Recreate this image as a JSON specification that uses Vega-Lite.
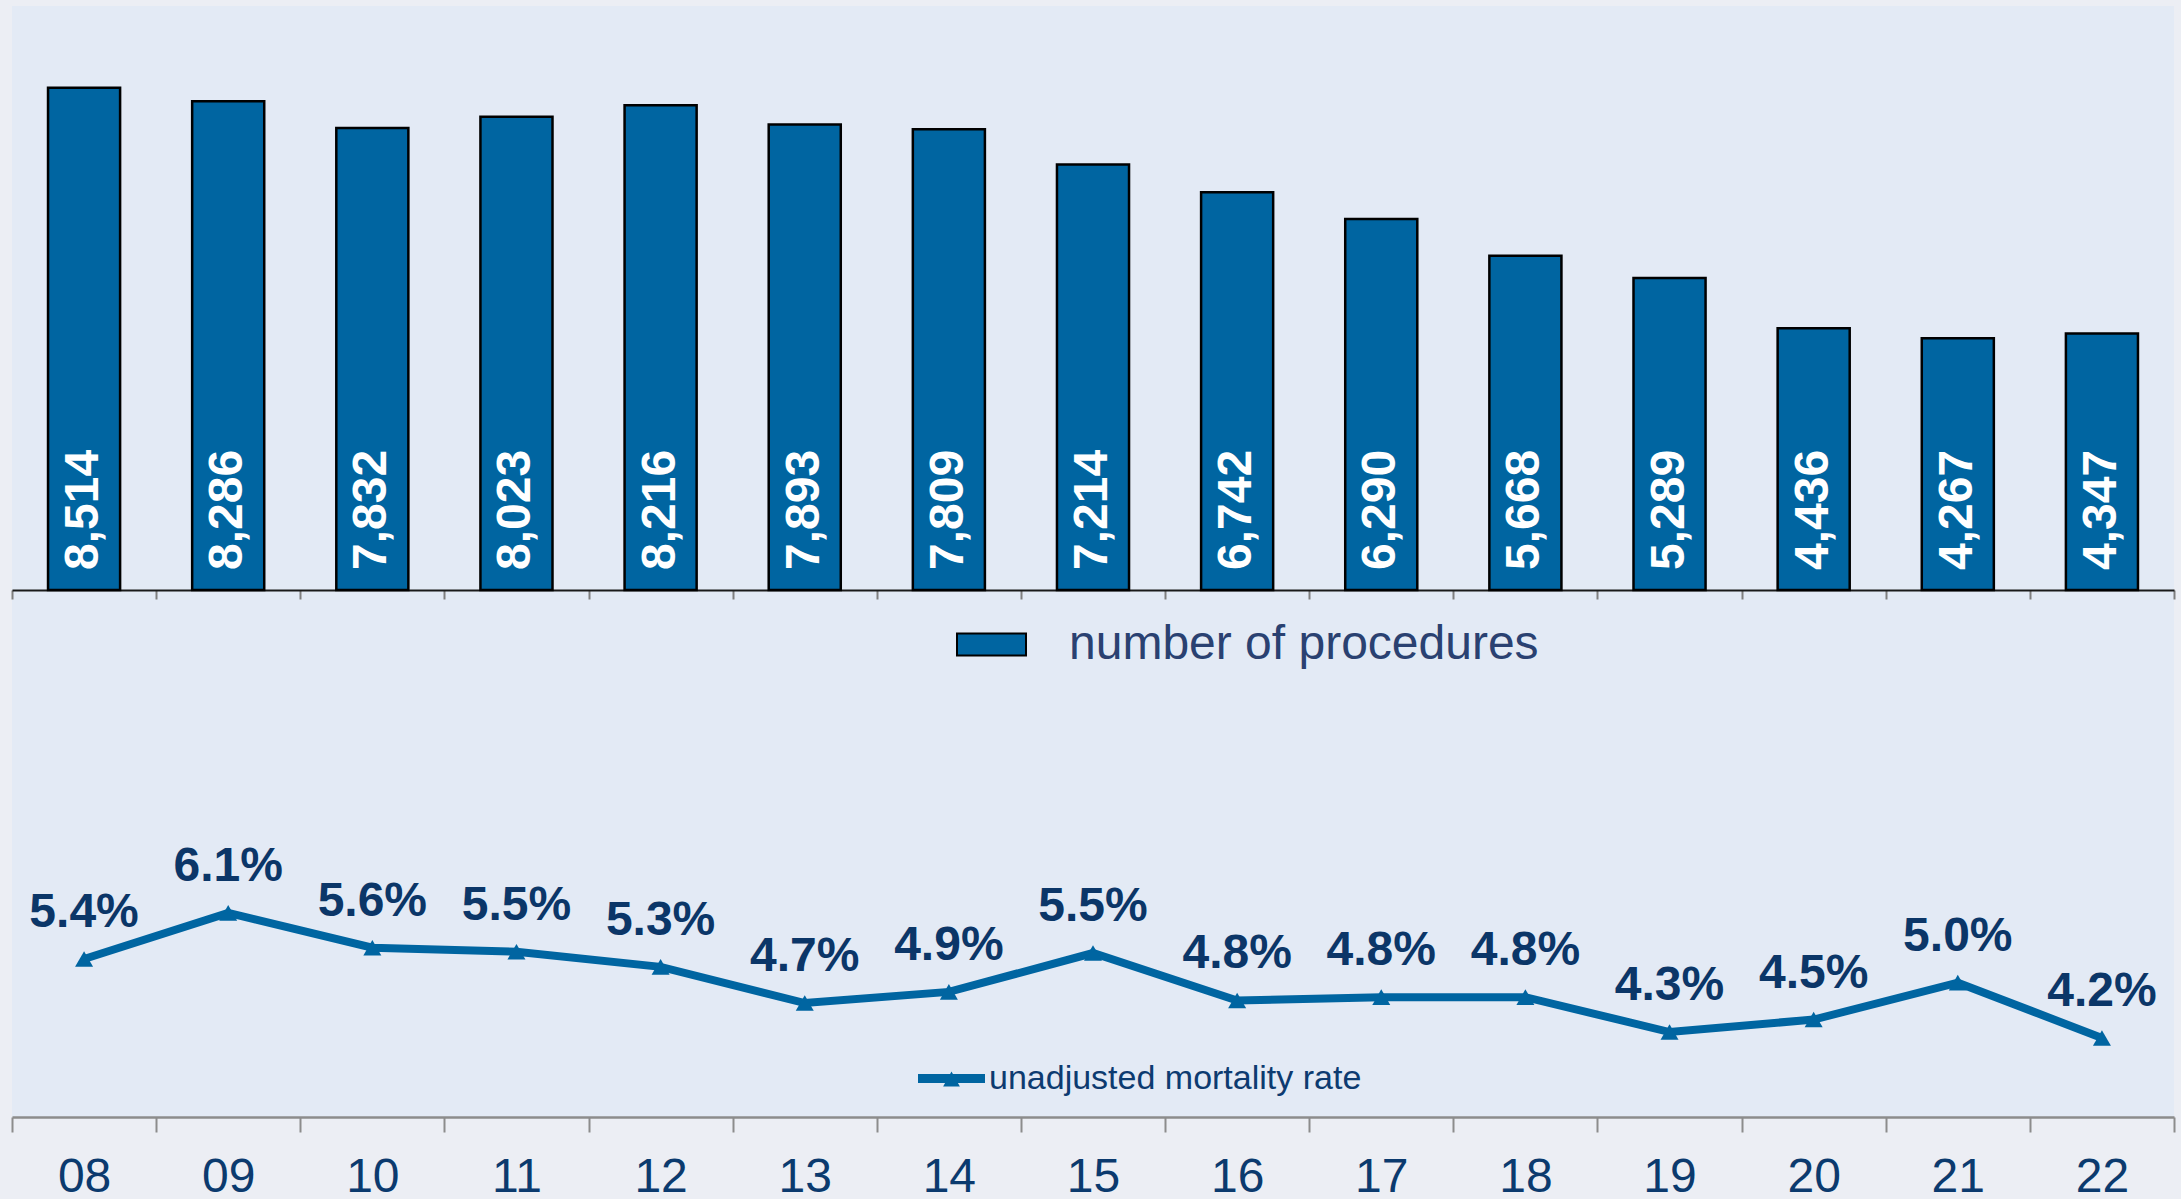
{
  "$schema": "https://vega.github.io/schema/vega-lite/v6.json",
  "background": "#ECEEF4",
  "padding": {"left": 11, "top": 6, "right": 8, "bottom": 0},
  "config": {
    "view": {"stroke": null, "fill": "#E3EAF5"},
    "font": "Liberation Sans",
    "axis": {"grid": false}
  },
  "width": 2162,
  "height": 1111,
  "data": {
    "values": [
      {"year": "08", "procedures": 8514, "rate": 0.054},
      {"year": "09", "procedures": 8286, "rate": 0.061},
      {"year": "10", "procedures": 7832, "rate": 0.0557},
      {"year": "11", "procedures": 8023, "rate": 0.0551},
      {"year": "12", "procedures": 8216, "rate": 0.0528},
      {"year": "13", "procedures": 7893, "rate": 0.0473},
      {"year": "14", "procedures": 7809, "rate": 0.049},
      {"year": "15", "procedures": 7214, "rate": 0.0549},
      {"year": "16", "procedures": 6742, "rate": 0.0477},
      {"year": "17", "procedures": 6290, "rate": 0.0482},
      {"year": "18", "procedures": 5668, "rate": 0.0482},
      {"year": "19", "procedures": 5289, "rate": 0.0429},
      {"year": "20", "procedures": 4436, "rate": 0.0448},
      {"year": "21", "procedures": 4267, "rate": 0.0504},
      {"year": "22", "procedures": 4347, "rate": 0.042}
    ]
  },
  "layer": [
    {
      "encoding": {
        "x": {
          "field": "year", "type": "nominal", "sort": null,
          "scale": {"paddingInner": 0, "paddingOuter": 0},
          "axis": {
            "orient": "bottom",
            "offset": -527,
            "title": null,
            "labels": false,
            "tickBand": "extent",
            "domainColor": "#1A1A1A",
            "domainWidth": 2,
            "tickColor": "#7F7F7F",
            "tickWidth": 2,
            "tickSize": 9
          }
        }
      },
      "layer": [
        {
          "mark": {"type": "bar", "stroke": "#000000", "strokeWidth": 2.5, "width": {"band": 0.5}},
          "encoding": {
            "y": {"field": "procedures", "type": "quantitative", "axis": null, "scale": {"domain": [-8934, 9900], "nice": false, "zero": false}},
            "y2": {"datum": 0},
            "fill": {
              "datum": "number of procedures",
              "scale": {"range": ["#0065A1"]},
              "legend": {
                "orient": "none",
                "legendX": 944,
                "legendY": 603,
                "title": null,
                "padding": 0,
                "symbolType": "M-1,-0.32H1V0.32H-1Z",
                "symbolSize": 4761,
                "symbolStrokeColor": "#000000",
                "symbolStrokeWidth": 2,
                "labelFontSize": 48,
                "labelFont": "Liberation Sans",
                "labelColor": "#2A4171",
                "labelOffset": 42,
                "labelLimit": 0
              }
            }
          }
        },
        {
          "mark": {"type": "text", "angle": 270, "align": "left", "baseline": "middle", "color": "#FFFFFF", "fontSize": 48, "fontWeight": "bold", "font": "Liberation Sans"},
          "encoding": {
            "y": {"datum": 340, "type": "quantitative"},
            "text": {"field": "procedures", "type": "quantitative", "format": ","}
          }
        }
      ]
    },
    {
      "encoding": {
        "x": {
          "field": "year", "type": "nominal", "sort": null,
          "scale": {"paddingInner": 0, "paddingOuter": 0},
          "axis": {
            "orient": "bottom",
            "title": null,
            "tickBand": "extent",
            "domainColor": "#8C8C8C",
            "domainWidth": 2.5,
            "tickColor": "#8C8C8C",
            "tickWidth": 2,
            "tickSize": 15,
            "labelAngle": 0,
            "labelFontSize": 48,
            "labelFont": "Liberation Sans",
            "labelColor": "#0B3A6E",
            "labelBaseline": "alphabetic",
            "labelPadding": 59,
            "labelOverlap": false
          }
        },
        "y": {"field": "rate", "type": "quantitative", "axis": null, "scale": {"domain": [0.03, 0.1987], "nice": false, "zero": false}}
      },
      "layer": [
        {
          "mark": {"type": "line", "color": "#0065A1", "strokeWidth": 8}
        },
        {
          "mark": {"type": "point", "shape": "triangle-up", "filled": true, "size": 324, "opacity": 1},
          "encoding": {
            "fill": {
              "datum": "unadjusted mortality rate",
              "scale": {"range": ["#0065A1"]},
              "legend": {
                "orient": "none",
                "legendX": 906,
                "legendY": 1039,
                "title": null,
                "padding": 0,
                "symbolType": "M-1,-0.134H1V0.134H-1Z M-0.25,0.24L0,-0.21L0.25,0.24Z",
                "symbolSize": 4489,
                "symbolStrokeWidth": 0,
                "labelFontSize": 34,
                "labelFont": "Liberation Sans",
                "labelColor": "#0D3B70",
                "labelOffset": 4,
                "labelLimit": 0
              }
            }
          }
        },
        {
          "mark": {"type": "text", "dy": -32, "baseline": "alphabetic", "align": "center", "fontSize": 48, "fontWeight": "bold", "color": "#0B3668", "font": "Liberation Sans"},
          "encoding": {
            "text": {"field": "rate", "type": "quantitative", "format": ".1%"}
          }
        }
      ]
    }
  ],
  "resolve": {"scale": {"y": "independent", "fill": "independent"}, "axis": {"x": "independent"}, "legend": {"fill": "independent"}}
}
